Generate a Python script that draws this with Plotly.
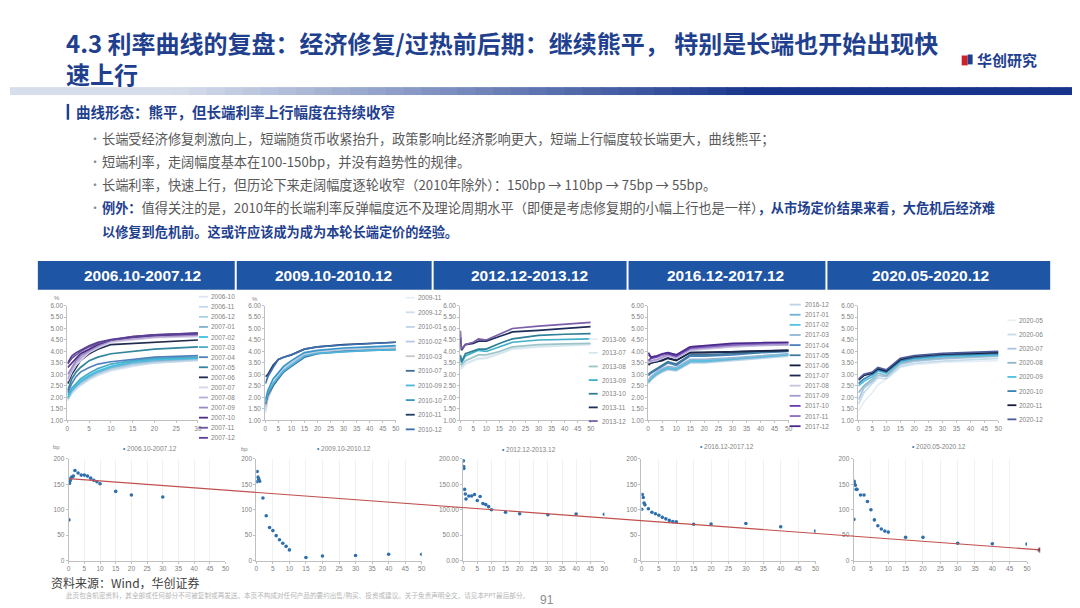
import plotly.graph_objects as go

W, H = 1080, 608


def px(x):
    return x / W


def py(y):
    return 1 - y / H


# ------------------------------------------------------------------ data
panel_titles = ["2006.10-2007.12", "2009.10-2010.12", "2012.12-2013.12",
                "2016.12-2017.12", "2020.05-2020.12"]

# ---- panel 1 : 2006.10-2007.12 yield curves (%)
mat_p1 = [0.08, 1, 2, 3, 5, 7, 10, 15, 20, 30]
labels_p1 = ["2006-10", "2006-11", "2006-12", "2007-01", "2007-02", "2007-03", "2007-04",
             "2007-05", "2007-06", "2007-07", "2007-08", "2007-09", "2007-10", "2007-11", "2007-12"]
curves_p1 = [
    [1.85, 2.15, 2.35, 2.50, 2.75, 2.95, 3.15, 3.35, 3.50, 3.60],
    [1.90, 2.20, 2.40, 2.55, 2.80, 3.00, 3.20, 3.40, 3.50, 3.62],
    [1.95, 2.25, 2.45, 2.60, 2.85, 3.05, 3.25, 3.45, 3.55, 3.65],
    [1.95, 2.30, 2.50, 2.65, 2.90, 3.10, 3.30, 3.50, 3.60, 3.70],
    [2.00, 2.30, 2.50, 2.70, 2.95, 3.15, 3.35, 3.55, 3.65, 3.72],
    [2.10, 2.40, 2.60, 2.80, 3.05, 3.25, 3.45, 3.60, 3.70, 3.75],
    [2.20, 2.60, 2.90, 3.10, 3.30, 3.45, 3.55, 3.65, 3.75, 3.82],
    [2.30, 2.80, 3.10, 3.30, 3.60, 3.75, 3.90, 4.00, 4.10, 4.20],
    [2.60, 3.00, 3.30, 3.60, 3.90, 4.10, 4.30, 4.35, 4.40, 4.50],
    [2.70, 3.10, 3.40, 3.60, 3.95, 4.15, 4.40, 4.50, 4.60, 4.65],
    [2.80, 3.20, 3.50, 3.70, 4.00, 4.20, 4.45, 4.55, 4.62, 4.70],
    [3.00, 3.30, 3.60, 3.80, 4.05, 4.25, 4.50, 4.60, 4.68, 4.72],
    [3.30, 3.50, 3.70, 3.90, 4.10, 4.30, 4.50, 4.62, 4.70, 4.78],
    [3.45, 3.70, 3.85, 4.00, 4.20, 4.35, 4.50, 4.65, 4.72, 4.80],
    [3.50, 3.80, 3.95, 4.05, 4.25, 4.40, 4.52, 4.65, 4.72, 4.80],
]

# ---- panel 2 : 2009.10-2010.12
mat_p2 = [0.08, 1, 3, 5, 7, 10, 15, 20, 30, 40, 50]
labels_p2 = ["2009-11", "2009-12", "2010-01", "2010-02", "2010-03",
             "2010-07", "2010-09", "2010-10", "2010-11", "2010-12"]
curves_p2 = [
    [1.30, 1.90, 2.50, 2.90, 3.20, 3.50, 3.85, 4.00, 4.10, 4.15, 4.20],
    [1.40, 2.00, 2.60, 3.00, 3.30, 3.55, 3.90, 4.02, 4.12, 4.18, 4.22],
    [1.50, 2.00, 2.60, 3.00, 3.30, 3.55, 3.90, 4.00, 4.10, 4.15, 4.20],
    [1.60, 2.00, 2.50, 2.90, 3.20, 3.50, 3.85, 3.95, 4.05, 4.10, 4.15],
    [1.60, 2.00, 2.50, 2.85, 3.10, 3.40, 3.80, 3.92, 4.02, 4.08, 4.12],
    [1.70, 2.10, 2.50, 2.80, 3.10, 3.35, 3.75, 3.90, 4.00, 4.05, 4.08],
    [1.80, 2.20, 2.60, 2.90, 3.15, 3.40, 3.80, 3.92, 4.00, 4.05, 4.08],
    [1.90, 2.30, 2.80, 3.10, 3.35, 3.60, 3.95, 4.05, 4.15, 4.20, 4.25],
    [2.90, 3.00, 3.40, 3.65, 3.75, 3.85, 4.10, 4.20, 4.30, 4.35, 4.40],
    [2.60, 2.90, 3.30, 3.65, 3.75, 3.85, 4.10, 4.20, 4.28, 4.35, 4.40],
]

# ---- panel 3 : 2012.12-2013.12
mat_p3 = [0.08, 0.5, 2, 5, 7, 10, 15, 20, 30, 40, 50]
labels_p3 = ["2013-06", "2013-07", "2013-08", "2013-09", "2013-10", "2013-11", "2013-12"]
curves_p3 = [
    [3.35, 3.30, 3.50, 3.65, 3.72, 3.75, 3.95, 4.15, 4.25, 4.30, 4.32],
    [3.30, 3.25, 3.45, 3.60, 3.68, 3.70, 3.90, 4.10, 4.20, 4.25, 4.30],
    [3.50, 3.40, 3.60, 3.75, 3.85, 3.85, 4.00, 4.20, 4.30, 4.33, 4.35],
    [3.80, 3.50, 3.80, 3.95, 4.05, 4.00, 4.20, 4.40, 4.50, 4.53, 4.55],
    [3.85, 3.55, 3.90, 4.00, 4.10, 4.10, 4.35, 4.55, 4.70, 4.75, 4.78],
    [4.60, 4.05, 4.30, 4.35, 4.45, 4.45, 4.65, 4.85, 4.92, 5.00, 5.08],
    [4.90, 4.10, 4.30, 4.40, 4.55, 4.50, 4.75, 5.00, 5.10, 5.20, 5.27],
]

# ---- panel 4 : 2016.12-2017.12
mat_p4 = [0.08, 1, 3, 5, 7, 10, 15, 20, 30, 40, 50]
labels_p4 = ["2016-12", "2017-01", "2017-02", "2017-03", "2017-04", "2017-05", "2017-06",
             "2017-07", "2017-08", "2017-09", "2017-10", "2017-11", "2017-12"]
curves_p4 = [
    [2.60, 2.75, 2.95, 3.10, 3.20, 3.15, 3.50, 3.50, 3.60, 3.70, 3.80],
    [2.65, 2.80, 3.00, 3.15, 3.25, 3.20, 3.55, 3.55, 3.65, 3.75, 3.85],
    [2.70, 2.85, 3.05, 3.20, 3.30, 3.25, 3.60, 3.60, 3.70, 3.80, 3.88],
    [2.75, 2.90, 3.10, 3.25, 3.35, 3.30, 3.65, 3.65, 3.72, 3.82, 3.90],
    [2.95, 3.05, 3.20, 3.35, 3.50, 3.40, 3.80, 3.80, 3.85, 3.95, 4.00],
    [3.00, 3.10, 3.25, 3.40, 3.55, 3.45, 3.85, 3.85, 3.90, 3.98, 4.02],
    [3.40, 3.50, 3.55, 3.60, 3.70, 3.60, 3.95, 3.95, 3.98, 4.02, 4.05],
    [3.45, 3.50, 3.55, 3.65, 3.72, 3.62, 3.95, 3.95, 3.98, 4.02, 4.05],
    [3.50, 3.55, 3.60, 3.70, 3.80, 3.70, 4.05, 4.10, 4.20, 4.25, 4.28],
    [3.55, 3.60, 3.65, 3.75, 3.85, 3.75, 4.10, 4.15, 4.25, 4.30, 4.30],
    [3.60, 3.70, 3.75, 3.85, 3.90, 3.80, 4.15, 4.20, 4.30, 4.35, 4.38],
    [3.85, 3.75, 3.80, 3.85, 3.95, 3.85, 4.20, 4.22, 4.32, 4.35, 4.38],
    [3.95, 3.75, 3.80, 3.90, 3.95, 3.85, 4.20, 4.25, 4.35, 4.38, 4.40],
]

# ---- panel 5 : 2020.05-2020.12
mat_p5 = [0.08, 2, 5, 7, 10, 15, 20, 30, 50]
labels_p5 = ["2020-05", "2020-06", "2020-07", "2020-08", "2020-09", "2020-10", "2020-11", "2020-12"]
curves_p5 = [
    [1.40, 1.80, 2.20, 2.55, 2.80, 3.30, 3.42, 3.52, 3.60],
    [1.70, 2.20, 2.60, 2.85, 2.80, 3.35, 3.48, 3.58, 3.70],
    [1.90, 2.40, 2.70, 2.95, 2.90, 3.45, 3.58, 3.68, 3.80],
    [2.20, 2.50, 2.80, 3.05, 2.95, 3.50, 3.62, 3.72, 3.82],
    [2.50, 2.70, 2.90, 3.15, 3.05, 3.55, 3.68, 3.78, 3.85],
    [2.60, 2.80, 3.00, 3.20, 3.10, 3.60, 3.72, 3.83, 3.90],
    [2.75, 2.95, 3.05, 3.25, 3.15, 3.65, 3.78, 3.88, 3.95],
    [2.80, 3.00, 3.10, 3.30, 3.20, 3.70, 3.82, 3.92, 4.00],
]

# ---- bottom row : rise of each maturity over the period (bp)
bp_x1 = [0.08, 0.25, 0.5, 0.75, 1, 1.5, 2, 3, 4, 5, 6, 7, 8, 9, 10, 15, 20, 30]
bp_y1 = [80, 152, 157, 162, 164, 166, 177, 172, 168, 168, 166, 162, 158, 155, 151, 136, 129, 125]
bp_x2 = [0.08, 0.25, 0.5, 0.75, 1, 2, 3, 4, 5, 6, 7, 8, 9, 10, 15, 20, 30, 40, 50]
bp_y2 = [155, 175, 164, 160, 156, 123, 88, 65, 59, 49, 41, 34, 28, 21, 6, 9, 10, 12.5, 12.5]
bp_x3 = [0.08, 0.17, 0.25, 0.5, 0.75, 1, 2, 3, 4, 5, 6, 7, 8, 9, 10, 15, 20, 30, 40, 50]
bp_y3 = [196, 185, 181, 140, 131, 121, 127, 127, 130, 118, 126, 112, 110, 106, 100, 95, 92, 90, 91.5, 91]
bp_x4 = [0.08, 0.25, 0.5, 0.75, 1, 2, 3, 4, 5, 6, 7, 8, 9, 10, 15, 20, 30, 40, 50]
bp_y4 = [101, 130, 124, 113, 109.5, 102, 95, 92, 89, 85, 82, 79, 76.6, 76, 71.5, 72, 73, 66.5, 58]
bp_x5 = [0.08, 0.17, 0.25, 0.5, 0.75, 1, 2, 3, 4, 5, 6, 7, 8, 9, 10, 15, 20, 30, 40, 50]
bp_y5 = [81, 155.6, 151, 148, 140, 140, 129, 129, 116, 100, 80, 68.6, 62, 58, 56, 45.7, 45.7, 34, 33, 32.4]

# cross-panel downward trend of long-end widening (relative position across the row, bp)
trend_x = [0, 1]
trend_y = [161, 21]

# ------------------------------------------------------------------ styles
colors_p1 = ["#dce6f2", "#c4d7ea", "#a8cfe0", "#7fb0d0", "#3cc0e6", "#4aacc6", "#4f81bd",
             "#31859c", "#1f2a4e", "#d9d2ea", "#b8acd6", "#9b86c5", "#4b2e83", "#6a55a0", "#5b3f95"]
colors_p2 = ["#e4ecf5", "#cfdcec", "#c0d4e8", "#b7c9e2", "#c8c8c8",
             "#3f6f99", "#4bb5dc", "#3a96c8", "#1f3a5f", "#3d6fb0"]
colors_p3 = ["#e8eef5", "#d6e6f0", "#9cc5c9", "#3fb0c8", "#2f7f96", "#1f2d5a", "#7a5ea8"]
colors_p4 = ["#b9d5e8", "#6fb3d2", "#4cc3e3", "#8fb6d6", "#4a7fba", "#3d7a9c", "#111b3a",
             "#1c2750", "#c9c0df", "#a898cf", "#6a3fb5", "#8a6cc0", "#4b2a8c"]
colors_p5 = ["#e6eef6", "#c5dcea", "#a8c2e2", "#8fb8c4", "#4cc0e0", "#3a83b7", "#141e3c", "#4a5d9a"]

TITLE_BLUE = "#1f3f8f"
GRAY = "#595959"
TICK_GRAY = "#7f7f7f"
AXIS_GRAY = "#c0c0c0"
DOT_BLUE = "#2f6fad"
FONT = "Noto Sans CJK SC"
LAT = "Liberation Sans"

# layout geometry (pixels)
top_x = [(57.7, 189), (256.7, 388), (452.7, 584), (641.7, 783), (853, 994)]
top_y = (297, 413)
bot_x = [(59, 216.7), (247.7, 414), (455.7, 597.7), (635, 810), (848.3, 1022.7)]
bot_y = (452, 555)

top_sets = [
    (mat_p1, labels_p1, curves_p1, colors_p1, 30),
    (mat_p2, labels_p2, curves_p2, colors_p2, 50),
    (mat_p3, labels_p3, curves_p3, colors_p3, 50),
    (mat_p4, labels_p4, curves_p4, colors_p4, 50),
    (mat_p5, labels_p5, curves_p5, colors_p5, 50),
]
bot_sets = [(bp_x1, bp_y1), (bp_x2, bp_y2), (bp_x3, bp_y3), (bp_x4, bp_y4), (bp_x5, bp_y5)]

# legend geometry per top panel: (first y, spacing, swatch x0, swatch x1, text x)
leg_geo = [
    (288, 10.2, 190, 199, 200),
    (289, 14.8, 398, 407, 408),
    (331, 13.8, 582, 591, 593),
    (296, 10.25, 784, 795, 797),
    (312, 14.3, 1003, 1012, 1013),
]
header_boxes = [(28, 226, 133), (228, 424, 325), (426, 620, 522), (622, 820, 719), (822, 1046, 926)]
bot_leg_x = [112, 307, 493, 692, 905]
bot_leg_y = [442, 442, 443, 440, 440]

fig = go.Figure()
layout = dict()
shapes = []
ann = []


def axis_common():
    return dict(showline=True, linecolor=AXIS_GRAY, linewidth=1, ticks="outside", ticklen=2,
                tickcolor=AXIS_GRAY, zeroline=False, showgrid=False,
                tickfont=dict(family=LAT, size=6.5, color=TICK_GRAY), fixedrange=True)


# ---- top panels
for i, (mats, labels, curves, cols, xmax) in enumerate(top_sets):
    n = i + 1
    xa = "x" if n == 1 else f"x{n}"
    ya = "y" if n == 1 else f"y{n}"
    for lab, vals, c in zip(labels, curves, cols):
        fig.add_trace(go.Scatter(x=mats, y=vals, mode="lines", name=lab,
                                 line=dict(color=c, width=1.7), xaxis=xa, yaxis=ya,
                                 showlegend=False, hoverinfo="skip"))
    xd = dict(axis_common(), domain=[px(top_x[i][0]), px(top_x[i][1])], range=[0, xmax],
              dtick=5, anchor=ya)
    yd = dict(axis_common(), domain=[py(top_y[1]), py(top_y[0])], range=[1, 6], dtick=0.5,
              tickformat=".2f", anchor=xa)
    layout["xaxis" if n == 1 else f"xaxis{n}"] = xd
    layout["yaxis" if n == 1 else f"yaxis{n}"] = yd
    # manual compact legend
    y0, dy, sx0, sx1, tx = leg_geo[i]
    for k, (lab, c) in enumerate(zip(labels, cols)):
        yy = y0 + k * dy
        shapes.append(dict(type="line", xref="paper", yref="paper", x0=px(sx0), x1=px(sx1),
                           y0=py(yy), y1=py(yy), line=dict(color=c, width=1.8)))
        ann.append(dict(x=px(tx), y=py(yy), xref="paper", yref="paper", text=lab,
                        showarrow=False, xanchor="left", yanchor="middle",
                        font=dict(family=LAT, size=6.5, color=TICK_GRAY)))

# ---- bottom panels
for i, (bx, by) in enumerate(bot_sets):
    n = i + 6
    xa, ya = f"x{n}", f"y{n}"
    fig.add_trace(go.Scatter(x=bx, y=by, mode="markers", name=panel_titles[i],
                             marker=dict(color=DOT_BLUE, size=3.6), xaxis=xa, yaxis=ya,
                             showlegend=False, hoverinfo="skip"))
    xd = dict(axis_common(), domain=[px(bot_x[i][0]), px(bot_x[i][1])], range=[0, 50],
              dtick=5, anchor=ya, showgrid=True, gridcolor="#f1f1f1")
    yd = dict(axis_common(), domain=[py(bot_y[1]), py(bot_y[0])], range=[0, 200], dtick=50,
              tickformat=".2f" if i == 2 else "d", anchor=xa)
    layout[f"xaxis{n}"] = xd
    layout[f"yaxis{n}"] = yd
    ann.append(dict(x=px(bot_leg_x[i]), y=py(bot_leg_y[i]), xref="paper", yref="paper",
                    text=f"<span style='color:{DOT_BLUE}'>•</span> {panel_titles[i]}",
                    showarrow=False, xanchor="left", yanchor="middle",
                    font=dict(family=LAT, size=6.5, color=TICK_GRAY)))

# ---- overlay trend line across the bottom row
fig.add_trace(go.Scatter(x=trend_x, y=trend_y, mode="lines+markers", xaxis="x11", yaxis="y11",
                         line=dict(color="#c0504d", width=1.1),
                         marker=dict(size=[0, 5], color="#2b2b4a"),
                         showlegend=False, hoverinfo="skip"))
layout["xaxis11"] = dict(domain=[px(59), px(1036)], range=[0, 1], visible=False, anchor="y11",
                         fixedrange=True)
layout["yaxis11"] = dict(domain=[py(bot_y[1]), py(bot_y[0])], range=[0, 200], visible=False,
                         anchor="x11", fixedrange=True)

# ---- unit labels
for (ux, uy, t) in [(47, 289, "%"), (246, 290, "%"), (47, 440, "bp"), (236, 442, "bp")]:
    ann.append(dict(x=px(ux), y=py(uy), xref="paper", yref="paper", text=t, showarrow=False,
                    xanchor="center", yanchor="middle", font=dict(family=LAT, size=6, color=TICK_GRAY)))

# ---- header boxes for the five periods
for (x0, x1, cx), t in zip(header_boxes, panel_titles):
    shapes.append(dict(type="rect", xref="paper", yref="paper", x0=px(x0), x1=px(x1),
                       y0=py(281), y1=py(252), fillcolor="#1f55a5", line=dict(width=0), layer="below"))
    ann.append(dict(x=px(cx), y=py(266.5), xref="paper", yref="paper", text=f"<b>{t}</b>",
                    showarrow=False, xanchor="center", yanchor="middle",
                    font=dict(family=LAT, size=15.5, color="white")))

# ---- gradient band under the title
nseg = 60
c0 = (214, 222, 236)
c1 = (22, 52, 140)
for k in range(nseg):
    t = k / (nseg - 1)
    t2 = min(1.0, max(0.0, (t - 0.15) / 0.55))
    r = int(c0[0] + (c1[0] - c0[0]) * t2)
    g = int(c0[1] + (c1[1] - c0[1]) * t2)
    b = int(c0[2] + (c1[2] - c0[2]) * t2)
    shapes.append(dict(type="rect", xref="paper", yref="paper", x0=k / nseg, x1=(k + 1) / nseg + 0.001,
                       y0=py(84), y1=py(76), fillcolor=f"rgb({r},{g},{b})", line=dict(width=0),
                       layer="below"))

# ---- logo
shapes.append(dict(type="rect", xref="paper", yref="paper", x0=px(957), x1=px(963),
                   y0=py(54), y1=py(44), fillcolor="#d0202a", line=dict(width=0)))
shapes.append(dict(type="rect", xref="paper", yref="paper", x0=px(963), x1=px(968),
                   y0=py(53), y1=py(43), fillcolor="#1f3f8f", line=dict(width=0)))
ann.append(dict(x=px(970), y=py(48.5), xref="paper", yref="paper", text="<b>华创研究</b>",
                showarrow=False, xanchor="left", yanchor="middle",
                font=dict(family=FONT, size=15, color=TITLE_BLUE)))

# ---- title (two lines in one text block)
ann.append(dict(x=px(54), y=py(47), xref="paper", yref="paper",
                text="<b>4.3 利率曲线的复盘：经济修复/过热前后期：继续熊平， 特别是长端也开始出现快</b><br><b>速上行</b>",
                showarrow=False, xanchor="left", yanchor="middle", align="left",
                font=dict(family=FONT, size=24, color=TITLE_BLUE)))

# ---- section heading
shapes.append(dict(type="rect", xref="paper", yref="paper", x0=px(57), x1=px(59.5),
                   y0=py(109), y1=py(93), fillcolor=TITLE_BLUE, line=dict(width=0)))
ann.append(dict(x=px(64), y=py(101), xref="paper", yref="paper",
                text="<b>曲线形态：熊平，但长端利率上行幅度在持续收窄</b>",
                showarrow=False, xanchor="left", yanchor="middle",
                font=dict(family=FONT, size=14.5, color=TITLE_BLUE)))

# ---- bullets
bullets = [
    (128, "长端受经济修复刺激向上，短端随货币收紧抬升，政策影响比经济影响更大，短端上行幅度较长端更大，曲线熊平；"),
    (151, "短端利率，走阔幅度基本在100-150bp，并没有趋势性的规律。"),
    (175, "长端利率，快速上行，但历论下来走阔幅度逐轮收窄（2010年除外）：150bp → 110bp → 75bp → 55bp。"),
    (198, f"<b><span style='color:{TITLE_BLUE}'>例外：</span></b>值得关注的是，2010年的长端利率反弹幅度远不及理论周期水平（即便是考虑修复期的小幅上行也是一样）"
          f"<b><span style='color:{TITLE_BLUE}'>，从市场定价结果来看，大危机后经济难</span></b>"),
]
for yy, t in bullets:
    ann.append(dict(x=px(77), y=py(yy), xref="paper", yref="paper", text="•", showarrow=False,
                    xanchor="left", yanchor="middle", font=dict(family=FONT, size=12, color="#8c8c8c")))
    ann.append(dict(x=px(91), y=py(yy), xref="paper", yref="paper", text=t, showarrow=False,
                    xanchor="left", yanchor="middle", font=dict(family=FONT, size=13.2, color=GRAY)))
ann.append(dict(x=px(91), y=py(222), xref="paper", yref="paper",
                text="<b>以修复到危机前。这或许应该成为成为本轮长端定价的经验。</b>", showarrow=False,
                xanchor="left", yanchor="middle", font=dict(family=FONT, size=13.2, color=TITLE_BLUE)))

# ---- footer
ann.append(dict(x=px(39), y=py(577), xref="paper", yref="paper", text="资料来源：Wind，华创证券",
                showarrow=False, xanchor="left", yanchor="middle",
                font=dict(family=FONT, size=12, color="#404040")))
ann.append(dict(x=px(54), y=py(590), xref="paper", yref="paper",
                text="此页包含机密资料，其全部或任何部分不可被复制或再发送。本页不构成对任何产品的要约出售/购买、投资或建议。关于免责声明全文，请见本PPT最后部分。",
                showarrow=False, xanchor="left", yanchor="middle",
                font=dict(family=FONT, size=6.6, color="#b5b5b5")))
ann.append(dict(x=px(540), y=py(595), xref="paper", yref="paper", text="91", showarrow=False,
                xanchor="center", yanchor="middle", font=dict(family=LAT, size=12, color="#8c8c8c")))

fig.update_layout(
    width=W, height=H, margin=dict(l=0, r=0, t=0, b=0),
    paper_bgcolor="white", plot_bgcolor="rgba(0,0,0,0)",
    showlegend=False, shapes=shapes, annotations=ann, **layout,
)

fig.write_html("out.html", config={"displayModeBar": False})
